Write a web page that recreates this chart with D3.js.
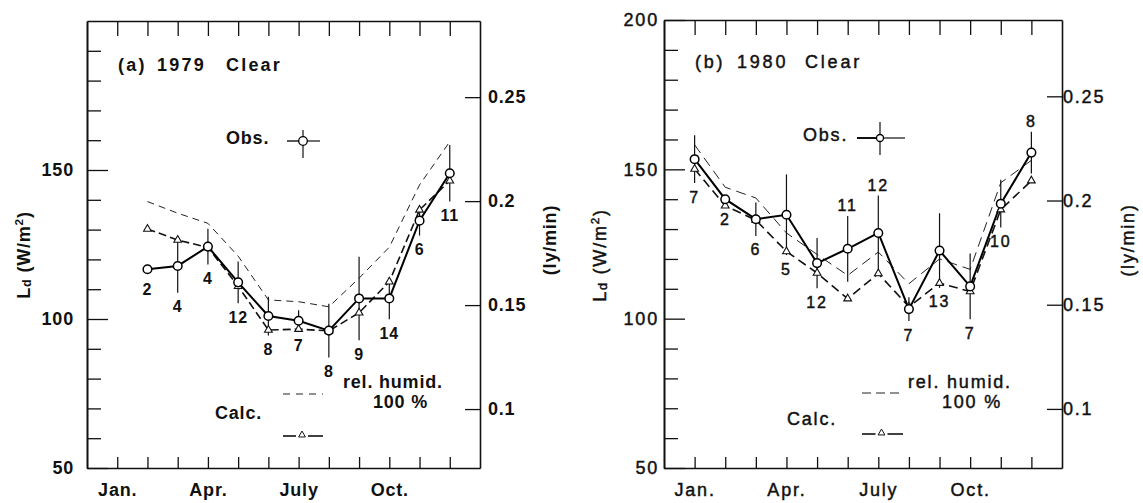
<!DOCTYPE html>
<html>
<head>
<meta charset="utf-8">
<script src="https://cdn.jsdelivr.net/npm/d3@7"></script>
<style>
  body { margin: 0; background: #fff; }
  svg { display: block; }
</style>
</head>
<body>
<svg id="chart" width="1143" height="503"></svg>
<script>
// Monthly mean downward longwave radiation on clear days, W/m^2
const months1979 = [2, 3, 4, 5, 6, 7, 8, 9, 10, 11, 12];
const obs1979  = [116.7, 117.8, 124.3, 112.3, 101.0, 99.4, 96.1, 106.9, 106.9, 133.0, 148.9];
const err1979  = [0, 9, 6, 7, 6.5, 3.5, 9, 14, 7, 5, 9.5];
const calc1979 = [130.2, 126.5, 124.0, 111.0, 96.3, 96.6, 96.0, 102.1, 112.5, 136.6, 146.4];
const rh1979   = [139.4, 135.5, 132.1, 121.1, 106.4, 105.8, 104.1, 113.7, 124.1, 145.0, 159.5];
const days1979 = ['2', '4', '4', '12', '8', '7', '8', '9', '14', '6', '11'];
const side1979 = ['below', 'below', 'below', 'below', 'below', 'below', 'below', 'below', 'below', 'below', 'below'];

const months1980 = [1, 2, 3, 4, 5, 6, 7, 8, 9, 10, 11, 12];
const obs1980  = [153.4, 140.0, 133.3, 134.8, 118.6, 123.4, 128.7, 103.2, 122.8, 110.8, 138.5, 155.6];
const err1980  = [8, 0, 5.6, 13.5, 8.4, 11, 12.5, 4, 12.5, 11, 8, 7];
const calc1980 = [150.1, 137.8, 133.0, 122.5, 115.3, 106.7, 115.1, 104.0, 111.9, 109.1, 136.5, 146.2];
const rh1980   = [158.2, 144.0, 140.4, 128.7, 121.5, 114.5, 122.3, 111.7, 120.0, 116.5, 145.5, 153.0];
const days1980 = ['7', '2', '6', '5', '12', '11', '12', '7', '13', '7', '10', '8'];
const side1980 = ['below', 'below', 'below', 'below', 'below', 'above', 'above', 'below', 'below', 'below', 'below', 'above'];

const monthLabels = {1: 'Jan.', 4: 'Apr.', 7: 'July', 10: 'Oct.'};
const wTicks1979 = [50, 100, 150];
const wTicks1980 = [50, 100, 150, 200];
const lyTicks = [0.1, 0.15, 0.2, 0.25];
const WM2_PER_LY = 697.8;   // 1 ly/min in W/m^2

class MonthlyPanel {

  constructor(_config, _data) {
    this.config = _config;
    this.data = _data;
    this.initVis();
    this.renderVis();
  }

  initVis() {
    let vis = this;
    const c = vis.config;

    vis.g = d3.select('#chart').append('g')
        .attr('font-family', 'Liberation Sans, Arial, sans-serif')
        .attr('font-weight', c.weight)
        .attr('fill', '#111')
        .style('letter-spacing', c.spacing + 'px');

    vis.xScale = d3.scaleLinear().domain([0, 13]).range([c.left, c.right]);
    vis.yScale = d3.scaleLinear().domain([50, 200]).range([c.bottom, c.top]);
    vis.lyScale = d3.scaleLinear()
        .domain([50 / WM2_PER_LY, 200 / WM2_PER_LY])
        .range([c.bottom, c.top]);

    const styleAxis = (sel, size) => {
      sel.attr('font-family', null).attr('font-size', size);
      sel.selectAll('line').attr('stroke', '#111').attr('stroke-width', 1.3);
      sel.selectAll('path').attr('stroke', '#111').attr('stroke-width', 1.6);
      sel.selectAll('text').attr('fill', '#111');
    };

    // bottom frame + month ticks pointing up
    vis.g.append('g')
        .attr('transform', `translate(0,${c.bottom})`)
        .call(d3.axisBottom(vis.xScale)
          .tickValues(d3.range(1, 13))
          .tickSizeInner(-11).tickSizeOuter(0).tickPadding(15)
          .tickFormat(m => monthLabels[m] || ''))
        .call(styleAxis, c.fontSize);

    // top frame + month ticks pointing down
    vis.g.append('g')
        .attr('transform', `translate(0,${c.top})`)
        .call(d3.axisTop(vis.xScale)
          .tickValues(d3.range(1, 13))
          .tickSizeInner(-15).tickSizeOuter(0).tickFormat(''))
        .call(styleAxis, c.fontSize);

    // left frame, minor ticks every 10 W/m^2
    vis.g.append('g')
        .attr('transform', `translate(${c.left},0)`)
        .call(d3.axisLeft(vis.yScale)
          .tickValues(d3.range(60, 200, 10).filter(v => v % 50 !== 0))
          .tickSizeInner(-14).tickSizeOuter(0).tickFormat(''))
        .call(styleAxis, c.fontSize);

    // major ticks with labels
    vis.g.append('g')
        .attr('transform', `translate(${c.left},0)`)
        .call(d3.axisLeft(vis.yScale)
          .tickValues(c.wTicks)
          .tickSizeInner(-21).tickSizeOuter(0).tickPadding(c.leftPad)
          .tickFormat(d3.format('d')))
        .call(styleAxis, c.fontSize);

    // right frame in ly/min
    vis.g.append('g')
        .attr('transform', `translate(${c.right},0)`)
        .call(d3.axisRight(vis.lyScale)
          .tickValues(lyTicks)
          .tickSizeInner(-15).tickSizeOuter(0).tickPadding(c.rightPad)
          .tickFormat(d => String(d)))
        .call(styleAxis, c.fontSize);

    // axis titles
    const ld = vis.g.append('text')
        .attr('transform', `translate(${c.ldX},${c.titleY}) rotate(-90)`)
        .attr('text-anchor', 'middle')
        .attr('dominant-baseline', 'central')
        .attr('font-size', c.fontSize);
    ld.append('tspan').text('L');
    ld.append('tspan').text('d').attr('font-size', c.fontSize * 0.7).attr('baseline-shift', '-25%');
    ld.append('tspan').text(' (W/m');
    ld.append('tspan').text('2').attr('font-size', c.fontSize * 0.65).attr('baseline-shift', '45%');
    ld.append('tspan').text(')');

    vis.g.append('text')
        .attr('transform', `translate(${c.lyX},${c.titleY - 15}) rotate(-90)`)
        .attr('text-anchor', 'middle')
        .attr('dominant-baseline', 'central')
        .attr('font-size', c.fontSize)
        .text('(ly/min)');

    // panel title
    vis.g.selectAll('.title')
        .data(c.title)
        .join('text')
        .attr('class', 'title')
        .attr('x', d => d.x)
        .attr('y', c.titleTop)
        .attr('dominant-baseline', 'central')
        .attr('font-size', c.titleSize)
        .style('letter-spacing', c.titleSpacing + 'px')
        .text(d => d.t);
  }

  renderVis() {
    let vis = this;
    const c = vis.config;
    const d = vis.data;
    const x = vis.xScale, y = vis.yScale;

    const pts = d.months.map((m, i) => ({
      m: m, obs: d.obs[i], err: d.err[i], calc: d.calc[i], rh: d.rh[i], n: d.days[i], side: d.side[i]
    }));

    const line = key => d3.line().x(p => x(p.m)).y(p => y(p[key]));

    vis.g.append('path').datum(pts)
        .attr('d', line('rh'))
        .attr('fill', 'none').attr('stroke', '#222')
        .attr('stroke-width', 1).attr('stroke-dasharray', c.rhDash);

    vis.g.append('path').datum(pts)
        .attr('d', line('calc'))
        .attr('fill', 'none').attr('stroke', '#111')
        .attr('stroke-width', 1.6).attr('stroke-dasharray', c.calcDash);

    vis.g.selectAll('.err')
        .data(pts.filter(p => p.err > 0))
        .join('line')
        .attr('class', 'err')
        .attr('x1', p => x(p.m)).attr('x2', p => x(p.m))
        .attr('y1', p => y(p.obs + p.err)).attr('y2', p => y(p.obs - p.err))
        .attr('stroke', '#111').attr('stroke-width', 1.2);

    vis.g.append('path').datum(pts)
        .attr('d', line('obs'))
        .attr('fill', 'none').attr('stroke', '#000').attr('stroke-width', 2);

    const tri = d3.symbol(d3.symbolTriangle, 26);
    vis.g.selectAll('.tri')
        .data(pts)
        .join('path')
        .attr('class', 'tri')
        .attr('d', tri)
        .attr('transform', p => `translate(${x(p.m)},${y(p.calc)})`)
        .attr('fill', '#fff').attr('stroke', '#111').attr('stroke-width', 1.1);

    vis.g.selectAll('.obs')
        .data(pts)
        .join('circle')
        .attr('class', 'obs')
        .attr('cx', p => x(p.m)).attr('cy', p => y(p.obs))
        .attr('r', 4.3)
        .attr('fill', '#fff').attr('stroke', '#000').attr('stroke-width', 1.5);

    // number of clear days
    vis.g.selectAll('.count')
        .data(pts)
        .join('text')
        .attr('class', 'count')
        .attr('x', p => x(p.m))
        .attr('y', p => {
          if (p.side === 'above') return y(p.obs + p.err) - 10;
          return p.err > 0 ? y(p.obs - p.err) + 14 : y(p.obs) + 20;
        })
        .attr('text-anchor', 'middle')
        .attr('dominant-baseline', 'central')
        .attr('font-size', c.countSize)
        .text(p => p.n);

    // legend
    const L = c.legend;
    const lg = vis.g.append('g').attr('font-size', c.fontSize);
    lg.append('text').attr('x', L.obsText).attr('y', L.obsY)
        .attr('dominant-baseline', 'central').text('Obs.');
    lg.append('line').attr('x1', L.obsX - L.obsHL).attr('x2', L.obsX)
        .attr('y1', L.obsY + 3).attr('y2', L.obsY + 3)
        .attr('stroke', '#111').attr('stroke-width', L.obsLW);
    lg.append('line').attr('x1', L.obsX).attr('x2', L.obsX + L.obsHR)
        .attr('y1', L.obsY + 3).attr('y2', L.obsY + 3)
        .attr('stroke', '#111').attr('stroke-width', 1.2);
    lg.append('line').attr('x1', L.obsX).attr('x2', L.obsX)
        .attr('y1', L.obsY + 3 - L.obsVU).attr('y2', L.obsY + 3 + L.obsVD)
        .attr('stroke', '#111').attr('stroke-width', 1.2);
    lg.append('circle').attr('cx', L.obsX).attr('cy', L.obsY + 3).attr('r', L.obsR)
        .attr('fill', '#fff').attr('stroke', '#000').attr('stroke-width', 1.3);

    lg.append('line').attr('x1', L.symX0).attr('x2', L.symX1)
        .attr('y1', L.rhY).attr('y2', L.rhY)
        .attr('stroke', '#222').attr('stroke-width', 1).attr('stroke-dasharray', c.rhLegendDash);
    lg.append('text').attr('x', L.rhText).attr('y', L.rhTextY)
        .attr('dominant-baseline', 'central').text('rel. humid.');
    lg.append('text').attr('x', L.pctText).attr('y', L.rhTextY + 20)
        .attr('dominant-baseline', 'central').text('100 %');

    lg.append('text').attr('x', L.calcText).attr('y', L.calcTextY)
        .attr('dominant-baseline', 'central').text('Calc.');
    const mid = (L.symX0 + L.symX1) / 2;
    lg.append('line').attr('x1', L.symX0).attr('x2', mid - 7)
        .attr('y1', L.calcY).attr('y2', L.calcY).attr('stroke', '#111').attr('stroke-width', 1.6);
    lg.append('line').attr('x1', mid + 5).attr('x2', L.symX1)
        .attr('y1', L.calcY).attr('y2', L.calcY).attr('stroke', '#111').attr('stroke-width', 1.6);
    lg.append('path').attr('d', d3.symbol(d3.symbolTriangle, 20))
        .attr('transform', `translate(${mid - 1},${L.calcY - 1})`)
        .attr('fill', '#fff').attr('stroke', '#111').attr('stroke-width', 1);

    // the typeset labels of panel (b) are a little heavier than plain regular
    if (c.textStroke) {
      vis.g.selectAll('text')
          .attr('stroke', '#111')
          .attr('stroke-width', c.textStroke);
    }
  }
}

new MonthlyPanel({
  left: 87, right: 480, top: 21, bottom: 468,
  weight: 'bold', spacing: 0.8, fontSize: 18, countSize: 16, textStroke: 0,
  wTicks: wTicks1979, leftPad: 13, rightPad: 8,
  ldX: 24, lyX: 550, titleY: 255,
  title: [{t: '(a)', x: 118}, {t: '1979', x: 157}, {t: 'Clear', x: 226}],
  titleTop: 65, titleSize: 18, titleSpacing: 2.2,
  rhDash: '7,5', calcDash: '8,4', rhLegendDash: '7,6',
  legend: {obsText: 226, obsY: 138, obsX: 303, obsHL: 16, obsHR: 17, obsVU: 11, obsVD: 17,
           obsR: 4.3, obsLW: 1.4,
           symX0: 283, symX1: 323, rhY: 394, rhText: 343, rhTextY: 382, pctText: 373,
           calcText: 215, calcTextY: 413, calcY: 436}
}, {months: months1979, obs: obs1979, err: err1979, calc: calc1979, rh: rh1979, days: days1979, side: side1979});

new MonthlyPanel({
  left: 664, right: 1062, top: 20, bottom: 468,
  weight: 'normal', spacing: 1.8, fontSize: 18, countSize: 16, textStroke: 0.45,
  wTicks: wTicks1980, leftPad: 5, rightPad: 1,
  ldX: 600, lyX: 1128, titleY: 255,
  title: [{t: '(b)', x: 695}, {t: '1980', x: 737}, {t: 'Clear', x: 805}],
  titleTop: 62, titleSize: 18, titleSpacing: 2.8,
  rhDash: '10,6', calcDash: '9,5', rhLegendDash: '9,5',
  legend: {obsText: 803, obsY: 135, obsX: 880, obsHL: 23, obsHR: 25, obsVU: 16, obsVD: 17,
           obsR: 3.5, obsLW: 2,
           symX0: 862, symX1: 903, rhY: 393, rhText: 908, rhTextY: 382, pctText: 942,
           calcText: 787, calcTextY: 419, calcY: 434}
}, {months: months1980, obs: obs1980, err: err1980, calc: calc1980, rh: rh1980, days: days1980, side: side1980});
</script>
</body>
</html>
